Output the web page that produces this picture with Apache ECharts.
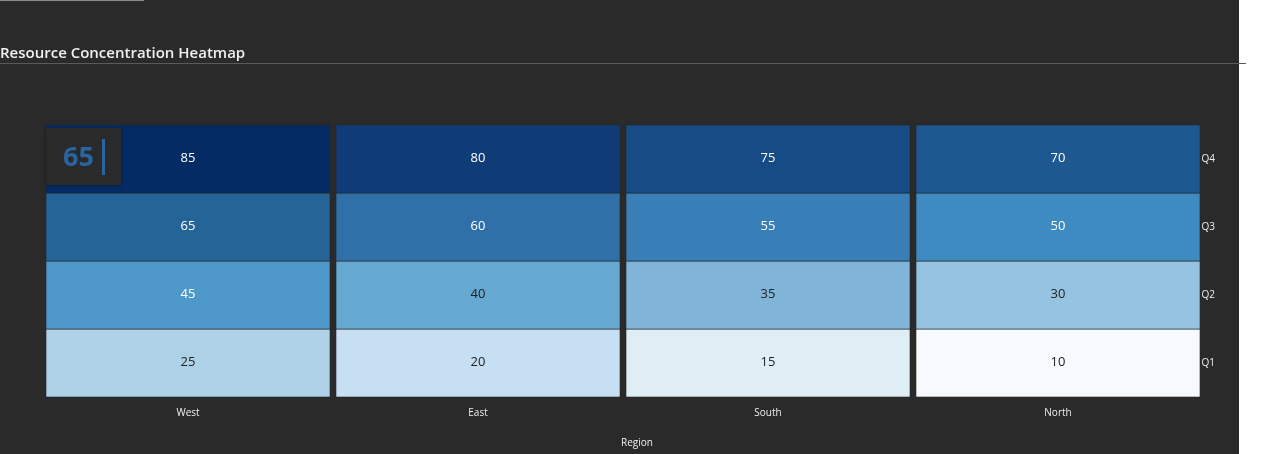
<!DOCTYPE html>
<html>
<head>
<meta charset="utf-8">
<script src="https://cdn.jsdelivr.net/npm/echarts@6/dist/echarts.min.js"></script>
<style>
  html, body { margin: 0; padding: 0; background: #ffffff; width: 1280px; height: 454px; overflow: hidden; }
  #wrap { position: absolute; left: 0; top: 0; width: 1239px; height: 454px; background: #2a2a2a; }
  #chart { position: absolute; left: 0; top: 0; width: 1239px; height: 454px; }
  #topline { position: absolute; left: 0; top: 0; width: 144px; height: 1px; background: #8a8a8a; }
  #rule { position: absolute; left: 0; top: 63px; width: 1246px; height: 1px; background: #5a5a5a; }
  #kpi { position: absolute; left: 46px; top: 128px; width: 75px; height: 57px; background: #2a2a2a;
         box-shadow: 0 1px 4px rgba(0,0,0,0.35); font-family: "Open Sans", "Noto Sans", sans-serif; }
  #kpi .num { position: absolute; left: 17px; top: 10px; font-size: 27px; font-weight: 700; color: #2a64a0; line-height: 36px; }
  #kpi .bar { position: absolute; left: 56px; top: 11px; width: 3px; height: 36px; background: #2a64a0; }
</style>
</head>
<body>
<div id="wrap"><div id="chart"></div></div>
<div id="topline"></div>
<div id="rule"></div>
<div id="kpi"><span class="num">65</span><span class="bar"></span></div>
<script>
// data
var regions = ['West', 'East', 'South', 'North'];
var quarters = ['Q1', 'Q2', 'Q3', 'Q4'];
var westVals  = [25, 45, 65, 85];
var eastVals  = [20, 40, 60, 80];
var southVals = [15, 35, 55, 75];
var northVals = [10, 30, 50, 70];
var valueRows = [westVals, eastVals, southVals, northVals];

// colour ramp, one stop per 5 units from 10 to 85
var blues = ['#f6fafe', '#dfedf5', '#c7dff2', '#add2e7', '#95c3e1', '#80b5d9', '#65a8d1', '#4d98c9',
             '#3d8bc0', '#377fb6', '#2f70a8', '#256497', '#1e5890', '#174b85', '#0f3c77', '#052b65'];

var cells = [];
valueRows.forEach(function (row, i) {
    row.forEach(function (v, j) {
        cells.push([i, j, v]);
    });
});

var chart = echarts.init(document.getElementById('chart'));
var font = '"Open Sans", "Noto Sans", sans-serif';

var option = {
    backgroundColor: 'transparent',
    animation: false,
    title: {
        text: 'Resource Concentration Heatmap',
        left: -5,
        top: 41,
        textStyle: { color: '#f0f0f0', fontSize: 15, fontWeight: 600, fontFamily: font }
    },
    grid: { left: 43, right: 36, top: 125, bottom: 57, outerBoundsMode: 'none' },
    xAxis: {
        type: 'category',
        data: regions,
        name: 'Region',
        nameLocation: 'middle',
        nameGap: 41,
        nameTextStyle: { color: '#f0f0f0', fontSize: 10, fontFamily: font, padding: [0, 0, 0, 28] },
        axisLine: { show: false },
        axisTick: { show: false },
        splitLine: { show: false },
        axisLabel: { color: '#f0f0f0', fontSize: 10, margin: 11, fontFamily: font }
    },
    yAxis: {
        type: 'category',
        data: quarters,
        position: 'right',
        axisLine: { show: false },
        axisTick: { show: false },
        splitLine: { show: false },
        axisLabel: { color: '#f0f0f0', fontSize: 10, margin: 12, align: 'right', fontFamily: font }
    },
    visualMap: {
        show: false,
        min: 10,
        max: 85,
        dimension: 2,
        inRange: { color: blues }
    },
    series: [{
        type: 'custom',
        data: cells,
        encode: { x: 0, y: 1 },
        renderItem: function (params, api) {
            var p = api.coord([api.value(0), api.value(1)]);
            var s = api.size([1, 1]);
            var v = api.value(2);
            return {
                type: 'rect',
                shape: { x: p[0] - s[0] / 2 + 3, y: p[1] - s[1] / 2, width: s[0] - 6, height: s[1] },
                style: { fill: api.visual('color'), stroke: 'rgba(38,38,38,0.6)', lineWidth: 1 },
                textContent: {
                    style: {
                        text: String(v),
                        fill: v >= 45 ? '#ffffff' : '#222222',
                        fontSize: 13,
                        fontFamily: font
                    }
                },
                textConfig: { position: 'inside', offset: [0, -1] }
            };
        }
    }]
};
chart.setOption(option, true);
</script>
</body>
</html>
